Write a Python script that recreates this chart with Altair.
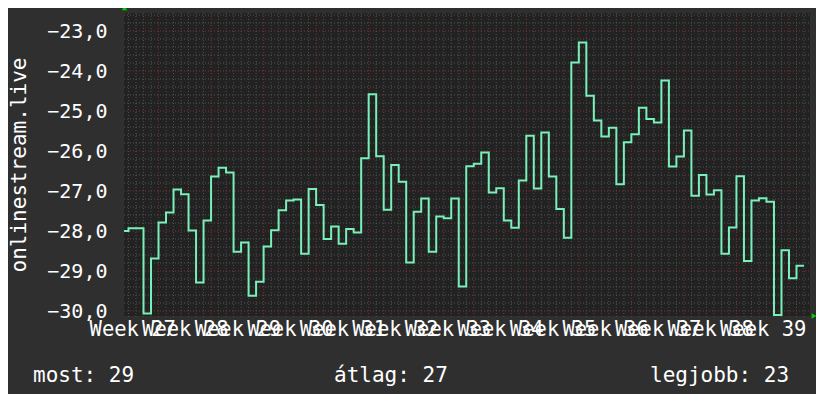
import altair as alt
import pandas as pd
import numpy as np

# ---- data (daily values, day 0 = start of week 27) ----
start_day = -5
values = [
    -28.0, -27.93, -27.93, -30.06, -28.69,
    -27.79, -27.54, -26.96, -27.08, -27.99, -29.29, -27.74,
    -26.64, -26.42, -26.54, -28.52, -28.29, -29.62, -29.27,
    -28.39, -27.98, -27.48, -27.24, -27.21, -28.57, -26.95,
    -27.35, -28.2, -27.89, -28.32, -27.95, -28.04, -26.18,
    -24.58, -26.13, -27.47, -26.35, -26.77, -28.79, -27.52,
    -27.19, -28.52, -27.64, -27.68, -27.19, -29.39, -26.38,
    -26.32, -26.04, -27.04, -26.93, -27.74, -27.92, -26.74,
    -25.62, -26.94, -25.54, -26.64, -27.45, -28.17, -23.79,
    -23.29, -24.62, -25.24, -25.64, -25.42, -26.83, -25.78,
    -25.58, -24.92, -25.2, -25.29, -24.24, -26.39, -26.14,
    -25.49, -27.12, -26.6, -27.09, -26.98, -28.57, -27.91,
    -26.63, -28.75, -27.24, -27.18, -27.27, -30.1, -28.48,
    -29.18, -28.87,
]
first_week = 27
week_numbers = list(range(27, 40))
y_ticks = [-30, -29, -28, -27, -26, -25, -24, -23]
y_title = "onlinestream.live"
legend_texts = ["most: 29", "átlag: 27", "legjobb: 23"]

# ---- layout / style ----
W, H = 686, 303
X_DOMAIN = [-4.6, 86.8]
Y_DOMAIN = [-30.125, -22.55]
FONT = "DejaVu Sans Mono"
LINE = "#78f0b8"
MINOR = "#505050"
MAJOR = "#7a3535"

days = list(range(start_day, start_day + len(values))) + [start_day + len(values)]
df = pd.DataFrame({"t": days, "v": values + [values[-1]]})

xs = alt.Scale(domain=X_DOMAIN, nice=False, zero=False)
ys = alt.Scale(domain=Y_DOMAIN, nice=False, zero=False)

all_days = list(range(-4, 87))
vminor = pd.DataFrame({"t": [d for d in all_days if d % 7 != 0]})
vmajor = pd.DataFrame({"t": [d for d in all_days if d % 7 == 0]})
hvals = [round(v, 1) for v in np.arange(-30.0, -22.55, 0.2)]
hminor = pd.DataFrame({"v": [v for v in hvals if abs(v - round(v)) > 1e-6]})
hmajor = pd.DataFrame({"v": y_ticks})

week_label_pos = [-3.5 + 7 * (w - first_week) for w in week_numbers]

x_axis = alt.Axis(
    values=week_label_pos,
    labelExpr=f"'Week ' + ({first_week} + round((datum.value + 3.5) / 7))",
    labelOverlap=False, labelFlush=False, labelBound=False,
    ticks=False, domain=False, grid=False, title=None,
    labelFont=FONT, labelFontSize=20.5, labelColor="white",
    labelPadding=3, labelBaseline="top",
)
y_axis = alt.Axis(
    values=y_ticks,
    labelExpr="replace(format(datum.value, '.1f'), '.', ',')",
    labelOverlap=False, labelFlush=False,
    ticks=False, domain=False, grid=False,
    labelFont=FONT, labelFontSize=20, labelColor="white", labelPadding=17,
    title=y_title, titleFont=FONT, titleFontSize=21, titleFontWeight="normal",
    titleColor="white", titleX=-99, titleY=H / 2, titleAngle=-90,
    titleBaseline="alphabetic", titleAlign="center",
)

def vrules(d, color):
    return alt.Chart(d).mark_rule(color=color, strokeWidth=1, strokeDash=[1, 2]).encode(
        x=alt.X("t:Q", scale=xs, axis=x_axis),
        y=alt.value(0), y2=alt.value(H + 3),
    )

def hrules(d, color):
    return alt.Chart(d).mark_rule(color=color, strokeWidth=1, strokeDash=[1, 2]).encode(
        y=alt.Y("v:Q", scale=ys, axis=y_axis),
        x=alt.value(0), x2=alt.value(W),
    )

line = alt.Chart(df).mark_line(interpolate="step-after", color=LINE, strokeWidth=2, clip=True).encode(
    x=alt.X("t:Q", scale=xs, axis=x_axis),
    y=alt.Y("v:Q", scale=ys, axis=y_axis),
)

legend_x = [-91, 210, 526]
texts = [
    alt.Chart(pd.DataFrame({"label": [legend_texts[i]]})).mark_text(
        font=FONT, fontSize=21, color="white", align="left", baseline="alphabetic"
    ).encode(text="label:N", x=alt.value(legend_x[i]), y=alt.value(H + 66))
    for i in range(3)
]

arrows = [
    alt.Chart(pd.DataFrame({"a": [0]})).mark_point(shape="triangle-up", filled=True, color="#00d000", size=30, opacity=1).encode(
        x=alt.value(0.5), y=alt.value(-5)),
    alt.Chart(pd.DataFrame({"a": [0]})).mark_point(shape="triangle-right", filled=True, color="#00d000", size=30, opacity=1).encode(
        x=alt.value(W + 4), y=alt.value(H)),
]

chart = alt.layer(
    vrules(vminor, MINOR), hrules(hminor, MINOR),
    vrules(vmajor, MAJOR), hrules(hmajor, MAJOR),
    line, *texts, *arrows,
).properties(
    width=W, height=H,
    autosize=alt.AutoSizeParams(type="none"),
    padding={"left": 116, "top": 5, "right": 6, "bottom": 78},
    background="#2f2f2f",
).configure_view(fill="#222222", stroke=None)

chart.save("out.html", embed_options={"renderer": "svg", "actions": False})
